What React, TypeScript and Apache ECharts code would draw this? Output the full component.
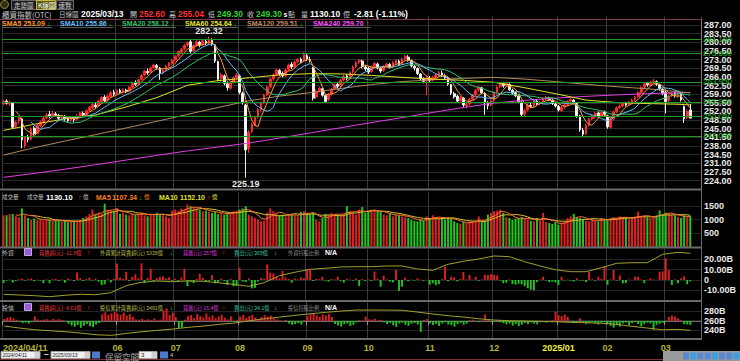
import React, { useEffect, useRef } from "react";
import * as echarts from "echarts";

const FONT = "'Liberation Sans', 'DejaVu Sans', sans-serif";
const CJK = "'Noto Sans CJK TC', 'Liberation Sans', sans-serif";

// ---------- calendar / ticks ----------
const monthLabels = ["2024/04/11", "05", "06", "07", "08", "09", "10", "11", "12", "2025/01", "02", "03"];
const monthDays = [14, 23, 19, 21, 22, 20, 20, 21, 21, 16, 19, 9];
const hiddenMonthLabels = ["05"];
const reservedBars = 3;

// ---------- OHLC  [open, close, low, high] ----------
const ohlcApr = [
  [255.2, 256.0, 254.6, 256.8], [256.2, 255.3, 254.8, 256.9], [255.0, 255.8, 254.2, 256.4], [255.4, 245.6, 245.0, 255.6],
  [246.0, 247.6, 245.2, 248.2], [248.0, 249.4, 247.0, 250.0], [249.0, 240.4, 237.0, 249.4], [238.0, 241.5, 237.2, 242.0],
  [241.4, 240.6, 239.5, 242.5], [240.8, 245.0, 240.2, 245.6], [245.2, 243.0, 242.4, 246.0], [243.2, 246.4, 242.8, 246.8],
  [246.2, 247.8, 245.6, 248.4], [247.6, 249.2, 247.0, 249.8],
];
const ohlcMay = [
  [249.4, 250.6, 248.8, 251.4], [250.8, 250.0, 249.2, 252.2], [250.0, 251.2, 249.6, 252.4], [251.0, 250.4, 249.8, 251.8],
  [250.4, 249.2, 248.6, 251.0], [249.4, 250.2, 248.4, 250.8], [250.0, 249.0, 248.2, 250.6], [249.0, 248.2, 247.4, 249.6],
  [248.4, 249.4, 247.8, 250.0], [249.2, 248.6, 247.6, 249.8], [248.8, 250.2, 248.2, 250.8], [250.0, 251.4, 249.6, 251.8],
  [251.2, 250.6, 250.0, 252.0], [250.8, 252.4, 250.4, 252.8], [252.4, 253.6, 251.8, 254.2], [253.4, 254.8, 253.0, 255.4],
  [254.6, 254.0, 253.2, 255.6], [254.2, 256.2, 253.8, 256.8], [256.0, 257.6, 255.6, 258.2], [257.8, 256.4, 255.8, 258.6],
  [256.6, 258.2, 256.0, 258.8], [258.0, 259.6, 257.6, 260.2], [259.8, 259.0, 258.2, 260.8],
];
const ohlcJun = [
  [259.2, 260.4, 258.8, 261.0], [260.6, 259.6, 259.0, 261.2], [259.8, 260.8, 259.2, 261.4], [260.6, 260.0, 259.4, 261.2],
  [260.2, 261.8, 259.8, 262.2], [261.8, 263.4, 261.4, 263.8], [263.6, 263.0, 262.4, 264.6], [263.2, 264.8, 262.8, 265.2],
  [265.0, 266.6, 264.6, 267.0], [266.8, 268.4, 266.2, 268.8], [268.2, 267.6, 266.8, 269.4], [267.8, 269.6, 267.4, 270.2],
  [269.8, 270.8, 269.2, 271.4], [270.6, 269.8, 269.0, 271.2], [269.6, 267.6, 264.8, 270.0], [267.8, 268.6, 267.0, 269.2],
  [268.8, 270.4, 268.2, 270.8], [270.4, 271.6, 269.8, 272.0], [271.4, 272.6, 270.8, 273.2],
];
const ohlcJul = [
  [272.8, 274.4, 272.2, 274.8], [274.6, 276.2, 274.0, 276.6], [276.0, 277.2, 275.4, 277.8], [277.4, 278.8, 276.8, 279.4],
  [279.0, 279.8, 278.2, 280.4], [280.2, 276.4, 275.6, 281.0], [276.6, 278.6, 276.0, 279.2], [278.8, 280.2, 278.2, 280.8],
  [280.0, 279.0, 278.0, 280.6], [279.2, 280.6, 278.6, 281.2], [280.4, 279.6, 278.8, 281.4], [279.8, 281.0, 279.2, 282.32],
  [280.8, 279.4, 278.6, 281.6], [279.0, 272.4, 271.6, 279.2], [272.2, 265.0, 264.2, 272.6], [265.4, 266.8, 264.0, 267.6],
  [266.4, 263.4, 262.6, 267.0], [263.2, 261.6, 260.4, 264.2], [261.4, 263.6, 260.8, 264.2], [263.8, 265.6, 263.2, 266.2],
  [265.8, 266.8, 265.0, 267.6],
];
const ohlcAug = [
  [266.4, 259.8, 259.0, 267.0], [259.4, 255.6, 254.8, 260.0], [254.6, 236.4, 225.19, 255.0], [237.0, 243.6, 235.2, 244.4],
  [244.0, 246.8, 243.2, 247.4], [246.6, 249.6, 246.0, 250.2], [249.8, 252.8, 249.2, 253.4], [252.6, 255.4, 252.0, 256.0],
  [255.6, 258.6, 255.0, 259.2], [258.8, 261.8, 258.2, 262.4], [262.0, 265.0, 261.4, 265.6], [265.2, 266.8, 264.4, 267.4],
  [267.0, 268.8, 266.2, 269.4], [268.6, 267.2, 266.4, 269.2], [267.4, 266.4, 265.8, 268.2], [266.6, 268.8, 266.0, 269.4],
  [269.0, 270.8, 268.4, 271.4], [271.0, 270.0, 269.2, 272.0], [270.2, 272.0, 269.6, 272.6], [272.2, 273.0, 271.4, 273.6],
  [273.2, 272.2, 271.6, 273.8], [272.4, 275.0, 272.0, 276.0],
];
const ohlcSep = [
  [274.6, 273.2, 272.4, 275.6], [273.0, 272.6, 271.8, 274.2], [269.6, 257.4, 256.4, 270.0], [257.8, 260.2, 257.0, 261.0],
  [260.4, 261.4, 259.6, 262.0], [261.2, 258.6, 258.0, 261.6], [258.4, 256.0, 255.4, 258.8], [256.8, 258.8, 256.2, 259.4],
  [259.0, 261.0, 258.4, 261.6], [261.2, 262.8, 260.6, 263.4], [263.0, 262.2, 261.4, 264.0], [262.4, 264.6, 261.8, 265.2],
  [264.8, 266.2, 264.2, 266.8], [266.4, 265.4, 264.6, 267.2], [265.6, 267.8, 265.0, 268.4], [268.0, 270.0, 267.4, 270.6],
  [270.2, 271.8, 269.6, 272.4], [272.0, 272.6, 271.2, 273.2], [272.4, 270.2, 269.4, 273.0], [270.0, 269.2, 268.4, 270.8],
];
const ohlcOct = [
  [269.4, 268.0, 267.2, 270.2], [268.2, 270.0, 267.6, 270.6], [270.2, 271.4, 269.6, 272.0], [271.2, 269.6, 269.0, 271.8],
  [269.4, 268.4, 267.6, 270.0], [268.6, 270.2, 268.0, 270.8], [270.4, 271.2, 269.8, 271.8], [271.0, 270.0, 269.4, 271.6],
  [270.2, 271.8, 269.6, 272.4], [271.6, 272.6, 271.0, 273.2], [272.4, 271.0, 270.4, 273.0], [271.2, 273.2, 270.8, 273.8],
  [273.4, 274.4, 272.8, 275.0], [274.0, 272.8, 272.2, 274.8], [272.6, 270.4, 269.8, 273.0], [270.2, 269.6, 268.6, 270.8],
  [269.4, 267.4, 266.8, 269.8], [267.2, 265.2, 264.6, 267.6], [265.0, 264.2, 263.4, 265.8], [264.4, 265.6, 258.6, 266.2],
];
const ohlcNov = [
  [265.4, 264.6, 263.8, 266.4], [264.8, 265.8, 264.2, 266.4], [265.8, 266.8, 265.2, 267.4], [266.8, 267.8, 266.2, 268.4],
  [267.6, 266.8, 266.0, 268.6], [266.6, 265.6, 264.8, 267.2], [265.4, 263.0, 262.4, 265.8], [262.8, 259.4, 258.6, 263.2],
  [259.2, 258.0, 257.2, 260.0], [258.2, 256.2, 255.6, 258.8], [256.4, 257.6, 255.8, 258.2], [257.4, 254.6, 253.8, 257.8],
  [254.2, 254.8, 253.2, 255.6], [255.0, 256.8, 254.4, 257.4], [257.0, 258.6, 256.4, 259.2], [258.8, 260.4, 258.2, 261.0],
  [260.6, 261.8, 260.0, 262.4], [261.6, 259.6, 259.0, 262.0], [259.4, 255.6, 250.6, 259.8], [255.4, 254.4, 252.8, 256.2],
  [254.6, 256.2, 254.0, 256.8],
];
const ohlcDec = [
  [256.4, 259.6, 255.8, 260.2], [259.8, 261.8, 259.2, 262.4], [262.0, 263.2, 261.4, 263.8], [263.2, 262.4, 261.6, 264.0],
  [262.6, 263.4, 262.0, 264.0], [263.0, 260.8, 260.2, 263.4], [260.6, 259.4, 258.8, 261.2], [259.6, 258.4, 257.8, 260.2],
  [258.2, 256.0, 255.4, 258.6], [255.8, 250.8, 250.0, 256.2], [251.0, 252.4, 250.2, 253.0], [252.6, 254.6, 252.0, 255.2],
  [254.4, 254.0, 253.4, 255.4], [254.2, 256.4, 253.8, 257.0], [256.2, 255.0, 254.4, 256.8], [255.2, 255.8, 254.6, 256.4],
  [255.6, 257.2, 255.0, 257.8], [257.0, 257.6, 256.4, 258.2], [257.4, 256.8, 256.2, 258.0], [256.6, 255.2, 254.6, 257.0],
  [255.0, 254.2, 253.6, 255.6],
];
const ohlcJan = [
  [254.0, 252.6, 252.0, 254.6], [252.4, 253.6, 251.8, 254.2], [253.8, 254.6, 253.0, 255.2], [254.8, 256.0, 254.2, 256.6],
  [256.2, 256.8, 255.6, 257.4], [256.6, 255.4, 254.8, 257.0], [255.2, 250.2, 249.4, 255.6], [250.2, 244.6, 243.8, 250.6],
  [244.4, 242.8, 242.0, 245.4], [243.0, 246.4, 242.4, 247.0], [246.6, 248.8, 246.0, 249.4], [249.0, 250.0, 248.4, 250.6],
  [249.8, 251.2, 249.2, 251.8], [251.4, 250.2, 249.6, 252.0], [250.4, 251.6, 249.8, 252.2], [251.8, 250.8, 250.0, 252.4],
];
const ohlcFeb = [
  [250.2, 245.8, 245.0, 250.6], [245.6, 248.8, 245.0, 249.4], [249.0, 251.8, 248.4, 252.4], [252.0, 253.4, 251.4, 254.0],
  [253.6, 254.0, 253.0, 254.8], [254.2, 255.0, 253.6, 255.6], [255.2, 254.6, 254.0, 255.8], [254.8, 255.6, 254.2, 256.2],
  [255.8, 256.6, 255.2, 257.2], [256.8, 257.8, 256.2, 258.4], [258.0, 259.6, 257.4, 260.2], [259.8, 261.6, 259.2, 262.2],
  [261.8, 263.2, 261.2, 263.8], [263.4, 262.8, 262.0, 264.0], [262.6, 263.8, 262.2, 264.4], [263.6, 264.2, 263.0, 265.2],
  [264.0, 263.0, 262.4, 264.6], [262.8, 261.2, 260.4, 263.2], [261.0, 259.4, 258.6, 261.4],
];
const ohlcMar = [
  [259.8, 256.0, 251.2, 260.4], [256.4, 258.2, 255.8, 258.8], [258.4, 259.4, 257.8, 260.0], [259.6, 258.4, 257.6, 260.2],
  [258.2, 259.0, 257.4, 259.6], [258.8, 256.6, 256.0, 259.2], [254.0, 249.0, 247.3, 254.4], [249.6, 252.11, 249.0, 252.8],
  [252.6, 249.3, 249.3, 255.04],
];

// ---------- volume (億) ----------
const volume = [
  1160, 1160, 1210, 1210, 1120, 1085, 1410, 1160, 1060, 1000, 1040, 980, 1010, 960,
  990, 1000, 950, 970, 950, 930, 960, 910, 940, 920, 960, 990, 1060, 1120, 1200, 1370, 1185, 1250, 1210, 1580, 1370, 1330, 1310,
  1410, 1210, 1250, 1185, 1160, 1210, 1185, 1210, 1250, 1160, 1120, 1210, 1185, 1250, 1185, 1160, 1120, 1060, 1330,
  1370, 1310, 1410, 1370, 1555, 1495, 1430, 1410, 1370, 1310, 1330, 1285, 1250, 1285, 1210, 1240, 1185, 1250, 1210, 1310, 1330,
  1370, 1410, 1490, 1185, 1120, 1060, 1000, 940, 960, 1250, 1410, 1310, 1210, 1160, 1185, 1120, 1210, 1185, 1160, 1120, 1285, 1310,
  1250, 1210, 1250, 1000, 940, 1060, 1210, 1185, 1250, 1210, 1185, 1160, 1210, 1490, 1310, 1250, 1185, 1370, 1460, 1250,
  1310, 1330, 1370, 1310, 1285, 1185, 1160, 1210, 1120, 1185, 1160, 1120, 1085, 1060, 1000, 960, 940, 1000, 960, 1120,
  1060, 1160, 1090, 1040, 1060, 1000, 1090, 1060, 940, 880, 840, 910, 880, 940, 940, 960, 1120, 910, 960, 1185, 1250,
  1310, 1330, 1370, 1250, 1090, 1060, 1000, 1040, 1060, 1090, 1040, 1000, 960, 940, 1060, 960, 1240, 910, 880, 840, 910,
  815, 880, 910, 1060, 1120, 1210, 1090, 1060, 1000, 960, 940, 1000, 960, 940, 1060, 1040,
  1000, 1060, 1090, 1060, 1120, 1090, 1060, 1000, 1090, 1120, 1290, 1090, 1120, 1090, 1060, 1120, 1160, 1340, 1210,
  1250, 1210, 1185, 1160, 1100, 1060, 1150, 1100, 1130.1,
];

// ---------- 外資 net buy (B) ----------
const foreignNet = [
  -2.8, -0.6, 0.5, -2.4, -0.8, 0.6, 1.2, -0.5, 0.8, 1.5, -1.2, 0.4, -0.6, -3.0,
  0.6, -3.2, 0.8, 1.2, -0.8, 0.5, -2.6, 1.4, 0.6, -0.9, 7.4, 1.8, -1.0, 0.9, 2.2, -0.6, 1.3, -1.5, -4.8, -4.2, 0.7, -2.4, 1.0,
  16.0, 2.4, 1.2, 8.0, -1.0, 3.0, 5.5, 1.6, 16.2, -3.0, 2.1, 11.0, -1.2, 1.8, 2.9, 3.4, 1.5, 2.6, -0.8,
  1.2, -0.8, 2.5, 11.0, -6.0, -1.5, -3.0, 1.0, 6.2, 2.0, -1.2, -0.8, 4.6, -3.2, -2.6, 1.4, -0.9, -4.8, 1.0, -6.2, -5.8,
  12.0, -1.5, -2.0, 1.5, -8.2, -7.6, -1.5, 2.0, 1.2, 15.0, 7.2, 6.4, 3.0, 1.5, 9.0, 2.5, 1.0, -2.6, 1.4, 0.6, 2.4, 1.8,
  10.0, 9.6, -1.0, 1.2, 0.8, 3.2, -0.6, -1.5, 1.0, 0.6, 3.2, -0.8, -2.5, 1.2, 0.4, -0.6, 1.4, -6.0, 0.8, -1.0,
  0.6, -0.8, 8.2, 1.2, -6.5, 4.1, 0.6, -1.6, -2.3, 9.7, -10.7, -6.5, 2.3, -1.2, 0.5, -0.6, 1.6, 0.4, -0.8, 0.3,
  -4.6, -3.2, -5.0, -4.2, 0.8, 12.9, -1.0, 3.2, 2.6, -1.3, 0.9, 7.8, 0.5, 4.9, 0.4, 3.2, -0.8, 0.6, 5.2, 4.8, 5.6,
  5.0, 4.4, -0.6, -3.0, -2.6, 0.5, -4.0, -4.4, -3.6, -4.2, -6.0, -8.0, -9.4, -10.0, -2.0, 0.6, 3.2, -0.5, -2.0, -1.6, -2.4,
  -4.8, 3.2, -0.4, 0.5, -0.6, -1.4, 1.6, -0.5, -0.4, -2.0, 8.0, 0.8, -0.6, 3.2, 1.0, 13.0,
  -4.6, 0.6, 9.7, -0.5, 4.5, -3.2, -3.0, 0.6, 0.3, 3.2, 3.0, 0.5, -3.0, 0.4, 1.6, 0.5, 0.3, 8.0, 8.4,
  21.0, 9.8, -4.8, 0.6, -3.2, 1.6, 3.6, -4.0, -1.18,
];
// 外資累計買賣超 (億), read at sampled days [dayIndex, value]
const foreignCum = [
  [0, 3893], [5, 3868], [10, 3844], [15, 3809], [20, 3858], [25, 3893], [30, 3879], [35, 3949], [40, 4194], [45, 4313],
  [50, 4358], [55, 4334], [60, 4358], [65, 4348], [70, 4299], [75, 4243], [80, 4173], [85, 4299], [90, 4544], [95, 4663],
  [100, 4768], [105, 4803], [110, 4849], [115, 4859], [120, 4859], [125, 4884], [130, 4884], [135, 4779], [140, 4733],
  [145, 4943], [150, 5048], [155, 5129], [160, 5234], [165, 5209], [170, 5034], [175, 4884], [180, 4754], [185, 4684],
  [190, 4684], [195, 4824], [200, 4978], [205, 4999], [210, 4999], [215, 5293], [220, 5363], [224, 5328],
];

// ---------- 投信 net buy (億) ----------
const trustNet = [
  4.2, 6.8, 8.6, 5.4, 2.6, -1.8, -4.6, -3.2, -5.8, -2.4, 9.8, 3.2, 1.6, 2.8,
  3.6, 1.2, 4.4, 2.6, 3.8, 1.8, -0.6, -6.2, -9.8, -12.4, -8.6, -14.8, -10.2, -6.4, -11.6, -13.2, -7.8, -4.6, 14.2, 18.6, 12.8, 16.4, 19.2,
  15.6, 13.2, 17.8, 11.4, 14.6, 8.8, 3.2, 2.4, 4.6, 1.8, 3.6, 2.2, 5.4, 1.2, 3.0, 22.4, 26.8, 12.6, 18.2,
  8.4, -15.6, -14.2, 2.6, 9.8, 12.4, 6.2, 14.8, 10.6, 7.4, 16.2, 8.8, 12.0, 5.6, 9.4, 13.6, 6.8, 3.2, 10.2, -1.8, 1.2,
  9.6, 12.8, 6.4, 10.8, 13.2, 7.6, 4.2, 8.8, 12.2, 9.4, 11.6, 6.0, 3.4, 1.2, -0.8, 2.0, -5.4, -8.2, -6.8, -4.4, -7.6, 1.6,
  10.4, 14.6, 16.2, 12.0, 9.2, 13.8, 11.4, 15.0, 8.6, -6.4, -9.8, -12.2, -7.4, -5.6, -10.8, -8.4, -3.2, 1.8, 0.8, 9.2,
  3.2, 2.6, 4.8, 1.4, 2.2, -2.6, -6.8, -4.2, -9.6, -12.8, -5.4, -3.6, -8.2, -10.4, -6.0, -4.6, -7.8, -23.4, 2.4, 4.0,
  -4.8, -8.6, -6.2, -10.8, -5.4, -3.2, -7.6, -9.4, -12.2, -6.8, -4.4, -8.0, -5.8, 1.6, 2.8, -1.2, -2.4, 0.8, 14.2, 3.6, -2.0,
  -1.6, 2.4, -3.0, -4.8, -7.2, -5.6, -9.8, -6.4, -11.2, -8.0, -4.2, -6.6, -3.4, -5.8, -7.4, -2.8, -1.2, -3.6, -2.0, 2.2, 19.8,
  12.4, 10.6, 13.8, 9.2, -2.4, -4.8, -1.6, 5.6, -3.2, -6.0, -4.4, -2.8, -5.2, -7.6, -3.8, -1.4,
  -6.4, -10.2, -14.4, -8.8, -12.0, -5.2, -3.6, -9.0, -4.8, -2.2, -6.6, -11.4, -7.2, -3.8, -5.6, -19.2, -8.4, -6.2, -4.0,
  -2.4, 8.6, 11.2, 9.4, 6.0, 1.6, -6.8, -7.4, -8.61,
];
// 投信累計買賣超 (B), sampled [dayIndex, value]
const trustCum = [
  [0, 248.9], [5, 244.8], [10, 241.2], [15, 239.2], [20, 237.1], [25, 234.4], [30, 230.9], [35, 229.6], [40, 233.8],
  [45, 237.1], [50, 240.0], [55, 242.7], [60, 246.2], [65, 248.9], [70, 252.4], [75, 255.1], [80, 259.9], [85, 264.0],
  [90, 267.6], [95, 271.1], [100, 274.4], [105, 277.3], [110, 280.0], [115, 282.1], [120, 282.1], [125, 282.1],
  [130, 281.5], [135, 277.9], [140, 273.8], [145, 270.3], [150, 267.6], [155, 264.0], [160, 261.3], [165, 259.9],
  [170, 259.3], [175, 258.7], [180, 257.8], [185, 256.6], [190, 255.8], [195, 254.5], [200, 252.4], [205, 248.3],
  [210, 244.8], [215, 241.2], [220, 242.1], [224, 240.1],
];

// ---------- long moving averages, sampled [dayIndex, value] ----------
const sma60Pts = [
  [0, 244.3], [10, 246.8], [20, 249.0], [30, 250.6], [40, 253.8], [50, 257.6], [60, 262.6], [70, 264.5], [80, 265.6],
  [90, 266.8], [100, 267.3], [110, 267.2], [120, 266.6], [130, 265.8], [140, 265.1], [150, 264.6], [160, 263.8],
  [170, 261.6], [180, 259.2], [190, 256.6], [200, 255.6], [210, 255.2], [220, 254.9], [224, 254.64],
];
const sma120Pts = [
  [0, 234.3], [10, 237.3], [20, 240.0], [30, 242.6], [40, 245.3], [50, 248.0], [60, 250.8], [70, 253.6], [80, 256.3],
  [90, 258.2], [100, 259.6], [110, 261.3], [120, 262.9], [130, 264.1], [140, 264.8], [150, 265.4], [160, 265.8],
  [170, 265.1], [180, 264.1], [190, 263.0], [200, 262.0], [210, 261.2], [220, 260.0], [224, 259.51],
];
const sma240Pts = [
  [0, 225.3], [10, 226.9], [20, 228.6], [30, 230.4], [40, 232.3], [50, 234.2], [60, 236.0], [70, 237.6], [80, 239.2],
  [90, 241.2], [100, 243.3], [110, 245.4], [120, 247.5], [130, 249.5], [140, 251.6], [150, 253.6], [160, 255.4],
  [170, 256.5], [180, 257.4], [190, 258.1], [200, 258.7], [210, 259.2], [220, 259.6], [224, 259.7],
];

// support / resistance levels
const greenLevels = [281.1, 275.604, 263.946, 255.924, 250.048, 242.092];

// ---------- helpers ----------
function sma(arr: number[], n: number) {
  return arr.map((_, i) => {
    if (i < n - 1) return null;
    let s = 0;
    for (let k = i - n + 1; k <= i; k++) s += arr[k];
    return +(s / n).toFixed(3);
  });
}
function edgeColors(n: number, c: string) {
  return Array.from({ length: n }, (_, k) => (k === 0 || k === n - 1 ? "rgba(0,0,0,0)" : c));
}
function T(x: number, y: number, text: string, fill: string, size = 9, bold = false, family = FONT, align = "left") {
  return {
    type: "text", x, y, silent: true, z: 100,
    style: {
      text, fill, font: `${bold ? "bold " : ""}${size}px ${family}`,
      textVerticalAlign: "middle", verticalAlign: "middle", textAlign: align, align,
    },
  };
}
function L(x1: number, y1: number, x2: number, y2: number, stroke: string, w = 1) {
  return { type: "line", silent: true, z: 90, shape: { x1, y1, x2, y2 }, style: { stroke, lineWidth: w } };
}
function R(x: number, y: number, w: number, h: number, fill: string, stroke?: string) {
  return { type: "rect", silent: true, z: 95, shape: { x, y, width: w, height: h }, style: { fill, stroke: stroke || null, lineWidth: 1 } };
}

export default function App() {
  const ref = useRef<HTMLDivElement>(null);

  useEffect(() => {
    if (!ref.current) return;
    const chart = echarts.init(ref.current, undefined, { renderer: "svg" });

    const ohlc = [
      ...ohlcApr, ...ohlcMay, ...ohlcJun, ...ohlcJul, ...ohlcAug, ...ohlcSep,
      ...ohlcOct, ...ohlcNov, ...ohlcDec, ...ohlcJan, ...ohlcFeb, ...ohlcMar,
    ];
    const closes = ohlc.map((d) => d[1]);

    const categories: string[] = [];
    const tickLabels = new Map<number, string>();
    let idx = 0;
    monthLabels.forEach((m, k) => {
      if (!hiddenMonthLabels.includes(m)) tickLabels.set(idx, m);
      for (let d = 0; d < monthDays[k]; d++) categories.push(`${m}-${d + 1}`);
      idx += monthDays[k];
    });
    for (let r = 0; r < reservedBars; r++) categories.push(`reserve-${r + 1}`);
    const isTick = (i: number) => tickLabels.has(i);

    const UP = "#ff2a2a";
    const DOWN_VOL = "#22c422";
    const volData = volume.map((v, i) => {
      const prev = i === 0 ? ohlc[0][0] : closes[i - 1];
      return { value: v, itemStyle: { color: closes[i] >= prev ? "#e02020" : DOWN_VOL } };
    });
    const fData = foreignNet.map((v) => ({ value: v, itemStyle: { color: v >= 0 ? "#e02020" : DOWN_VOL } }));
    const tData = trustNet.map((v) => ({ value: v, itemStyle: { color: v >= 0 ? "#e02020" : DOWN_VOL } }));

    const gridLeft = 2;
    const gridWidth = 699;
    const grids = [
      { left: gridLeft, width: gridWidth, top: 16.4, height: 172.8 },
      { left: gridLeft, width: gridWidth, top: 192.3, height: 54.7 },
      { left: gridLeft, width: gridWidth, top: 249.1, height: 51.5 },
      { left: gridLeft, width: gridWidth, top: 301.4, height: 38.6 },
    ];

    const xAxes = [0, 1, 2, 3].map((g) => ({
      type: "category",
      gridIndex: g,
      data: categories,
      boundaryGap: true,
      axisLine: { show: g === 3, lineStyle: { color: "#6a6a6a" } },
      axisTick: { show: g === 3, interval: isTick, length: 4, lineStyle: { color: "#9a9a9a" } },
      axisLabel: {
        show: g === 3,
        interval: isTick,
        margin: 3,
        color: "#b4b43c",
        fontSize: 9,
        fontWeight: "bold",
        fontFamily: FONT,
        formatter: (_v: string, i: number) => {
          const lab = tickLabels.get(i) || "";
          if (i === 0) return `{first|${lab}}`;
          if (lab.length > 2) return `{hl|${lab}}`;
          return lab;
        },
        rich: {
          first: { padding: [0, 0, 0, 42], color: "#b4b43c", fontSize: 9, fontWeight: "bold", fontFamily: FONT },
          hl: { color: "#f0f040", fontSize: 9, fontWeight: "bold", fontFamily: FONT },
        },
      },
      splitLine: { show: true, interval: isTick, lineStyle: { color: "#3a3a3a", width: 1 } },
      axisPointer: { show: false },
    }));

    const labelStyle = { color: "#e8e8e8", fontSize: 9, fontWeight: "bold", fontFamily: FONT, margin: 3 };
    const yAxes: any[] = [
      {
        gridIndex: 0, position: "right", min: 220.5, max: 290.5, interval: 3.5, scale: true,
        axisLine: { show: false }, axisTick: { show: false },
        axisLabel: { ...labelStyle, formatter: (v: number) => (v < 223 || v > 288 ? "" : v.toFixed(2)) },
        splitLine: { lineStyle: { color: edgeColors(21, "#2a2a2a") } },
      },
      {
        gridIndex: 1, position: "right", min: 0, max: 2000, interval: 500,
        axisLine: { show: false }, axisTick: { show: false },
        axisLabel: { ...labelStyle, formatter: (v: number) => (v === 0 || v === 2000 ? "" : String(v)) },
        splitLine: { lineStyle: { color: edgeColors(5, "#222222") } },
      },
      {
        gridIndex: 2, position: "right", min: -20, max: 30, interval: 10,
        axisLine: { show: false }, axisTick: { show: false },
        axisLabel: {
          ...labelStyle,
          formatter: (v: number) => (v === -20 || v === 30 ? "" : v === 0 ? "0" : v.toFixed(2) + "B"),
        },
        splitLine: { lineStyle: { color: edgeColors(6, "#242424") } },
      },
      { gridIndex: 2, show: false, min: 3672, max: 5475, splitLine: { show: false } },
      {
        gridIndex: 3, position: "right", min: 220, max: 300, interval: 20,
        axisLine: { show: false }, axisTick: { show: false },
        axisLabel: { ...labelStyle, formatter: (v: number) => (v === 220 || v === 300 ? "" : v + "B") },
        splitLine: { lineStyle: { color: edgeColors(5, "#242424") } },
      },
      { gridIndex: 3, show: false, min: -41, max: 42, splitLine: { show: false } },
    ];

    const lineS = (name: string, data: any[], color: string, xi: number, yi: number, z = 3) => ({
      name, type: "line", data, xAxisIndex: xi, yAxisIndex: yi, showSymbol: false, symbol: "none",
      lineStyle: { color, width: 1 }, z, silent: true, connectNulls: false,
    });

    const series: any[] = [
      {
        name: "K", type: "candlestick", data: ohlc, xAxisIndex: 0, yAxisIndex: 0, barWidth: "72%",
        itemStyle: { color: UP, color0: "#f2f2f2", borderColor: UP, borderColor0: "#f2f2f2", borderWidth: 1 },
        markPoint: {
          symbol: "circle", symbolSize: 1, silent: true,
          itemStyle: { color: "rgba(0,0,0,0)" },
          data: [
            { type: "max", valueDim: "highest", label: { position: "top", distance: 1 } },
            { type: "min", valueDim: "lowest", label: { position: "bottom", distance: 1 } },
          ],
          label: {
            show: true, color: "#e8e8e8", fontSize: 9, fontWeight: "bold", fontFamily: FONT,
            formatter: (p: any) => Number(p.value).toFixed(2),
          },
        },
        markLine: {
          silent: true, symbol: ["none", "none"], animation: false,
          lineStyle: { color: "#1f9a1f", type: "solid", width: 1 },
          label: {
            show: true, position: "end", distance: 2, color: "#22c022", fontSize: 8, fontFamily: FONT,
            formatter: (p: any) => Number(p.value).toFixed(3),
          },
          data: greenLevels.map((v) => ({ yAxis: v })),
        },
        z: 2,
      },
      lineS("SMA240", sma240Pts, "#e040e0", 0, 0),
      lineS("SMA120", sma120Pts, "#b08a5a", 0, 0),
      lineS("SMA60", sma60Pts, "#e0e030", 0, 0),
      lineS("SMA20", sma(closes, 20), "#33c466", 0, 0),
      lineS("SMA10", sma(closes, 10), "#66c0ff", 0, 0),
      lineS("SMA5", sma(closes, 5), "#ff9933", 0, 0),
      { name: "VOL", type: "bar", data: volData, xAxisIndex: 1, yAxisIndex: 1, barWidth: "66%", silent: true, z: 2 },
      lineS("VMA10", sma(volume, 10), "#d8c030", 1, 1),
      lineS("VMA5", sma(volume, 5), "#ff7030", 1, 1),
      { name: "外資", type: "bar", data: fData, xAxisIndex: 2, yAxisIndex: 2, barWidth: "62%", silent: true, z: 2 },
      lineS("外資累計", foreignCum, "#a0a030", 2, 3),
      { name: "投信", type: "bar", data: tData, xAxisIndex: 3, yAxisIndex: 5, barWidth: "62%", silent: true, z: 2 },
      lineS("投信累計", trustCum, "#a0a030", 3, 4),
    ];

    // ---------- decorations ----------
    const G: any[] = [];
    const UPC = "#ff3030";
    const DNC = "#30d030";
    // tabs
    G.push({ type: "circle", silent: true, z: 95, shape: { cx: 4.5, cy: 4.5, r: 4 }, style: { fill: "#303018", stroke: "#a09030", lineWidth: 1 } });
    G.push(R(11.5, 0.5, 25, 9, "#1a1a1a", "#6a6a6a"));
    G.push(T(14, 5, "走勢圖", "#d0d0d0", 6.5, false, CJK));
    G.push(R(36.5, 0.5, 19, 9, "#5a5a10", "#c8b840"));
    G.push(T(38, 5, "K線圖", "#ffffff", 6.5, false, CJK));
    G.push(R(56.5, 0.5, 17, 9, "#1a1a1a", "#6a6a6a"));
    G.push(T(58.5, 5, "速覽", "#d0d0d0", 6.5, false, CJK));

    // info line
    const iy = 14;
    G.push(T(2, iy, "櫃買指數(OTC)", "#c8c8c8", 7.5, false, CJK));
    G.push(T(59, iy, "日線圖", "#c8c8c8", 6.5, false, CJK));
    G.push(T(81, iy, "2025/03/13", "#ffffff", 8.5, true));
    G.push(T(130, iy, "開", "#c8c8c8", 7, false, CJK));
    G.push(T(139, iy, "252.60", UPC, 8.5, true));
    G.push(T(169, iy, "高", "#c8c8c8", 7, false, CJK));
    G.push(T(178, iy, "255.04", UPC, 8.5, true));
    G.push(T(208, iy, "低", "#c8c8c8", 7, false, CJK));
    G.push(T(217, iy, "249.30", DNC, 8.5, true));
    G.push(T(247, iy, "收", "#c8c8c8", 7, false, CJK));
    G.push(T(256, iy, "249.30", DNC, 8.5, true));
    G.push(T(283.5, iy, "s", "#ffffff", 7, true));
    G.push(T(288, iy, "點", "#c8c8c8", 7, false, CJK));
    G.push(T(301, iy, "量", "#c8c8c8", 7, false, CJK));
    G.push(T(310, iy, "1130.10", "#ffffff", 8.5, true));
    G.push(T(343, iy, "億", "#c8c8c8", 7, false, CJK));
    G.push(T(354, iy, "-2.81 (-1.11%)", "#ffffff", 8.5, true));

    // panel frames
    G.push(L(0, 19.5, 702, 19.5, "#7a3a4a", 1));
    G.push(L(701.5, 19.5, 701.5, 189, "#9a6a7a", 1));
    G.push(L(0, 189.5, 702, 189.5, "#6a6a6a", 2));
    G.push(L(0, 247.5, 702, 247.5, "#6a6a6a", 2));
    G.push(L(0, 301, 702, 301, "#6a6a6a", 2));
    G.push(L(0, 339, 702, 339, "#6a6a6a", 2));
    G.push(L(701.5, 189.5, 701.5, 339, "#6a6a6a", 1));

    // SMA legend: [x, text, color, arrowX, up]
    const sy = 23.3;
    const smaItems: [number, string, string, number, boolean][] = [
      [2, "SMA5 253.09", "#ff9933", 47, false],
      [60, "SMA10 255.86", "#66c0ff", 108.5, false],
      [122, "SMA20 258.12", "#33c466", 171, false],
      [185, "SMA60 254.64", "#e8e830", 233.5, false],
      [247, "SMA120 259.51", "#c08a60", 299.5, false],
      [313, "SMA240 259.70", "#ff55ff", 366, true],
    ];
    smaItems.forEach(([x, t, c, ax, up]) => {
      G.push(T(x, sy, t, c, 7, true));
      G.push(T(ax, sy, up ? "↑" : "↓", up ? UPC : DNC, 7, true));
      G.push(L(x, 27.5, ax + 5, 27.5, "#5a5a5a", 1));
    });

    // volume header
    const vy = 197;
    G.push(T(2, vy, "成交量", "#c0c0c0", 5.5, false, CJK));
    G.push(T(27, vy, "成交量", "#c0c0c0", 5.5, false, CJK));
    G.push(T(46, vy, "1130.10", "#ffffff", 7.5, true));
    G.push(T(78, vy, "↑", UPC, 7, true));
    G.push(T(83, vy, "億", "#c0c0c0", 5.5, false, CJK));
    G.push(T(96, vy, "MA5", "#ff7f27", 7, true));
    G.push(T(112, vy, "1107.34", "#ff7f27", 7, true));
    G.push(T(139, vy, "↓", DNC, 7, true));
    G.push(T(144, vy, "億", "#ff7f27", 5.5, false, CJK));
    G.push(T(159, vy, "MA10", "#e0e030", 7, true));
    G.push(T(180, vy, "1152.10", "#e0e030", 7, true));
    G.push(T(207, vy, "↑", UPC, 7, true));
    G.push(T(212, vy, "億", "#e0e030", 5.5, false, CJK));

    // institutional headers
    const instHeader = (y: number, who: string, net: string, cum: string, buy: string, sell: string) => {
      G.push(T(2, y, who, "#c0c0c0", 6, false, CJK));
      G.push(R(24.5, y - 3.5, 7, 7, "#9a60d0", "#c8a0f0"));
      G.push(T(39, y, `買賣超(元) ${net}`, "#ff4040", 5.2, false, CJK));
      G.push(T(87, y, "↑", UPC, 6.5, true));
      G.push(T(100, y, `${who}累計買賣超(元) ${cum}`, "#c8c850", 5.2, false, CJK));
      G.push(T(170, y, "↓", DNC, 6.5, true));
      G.push(T(183, y, `買進(元) ${buy}`, "#e040e0", 5.2, false, CJK));
      G.push(T(222, y, "↑", UPC, 6.5, true));
      G.push(T(234, y, `賣出(元) ${sell}`, "#40d0a0", 5.2, false, CJK));
      G.push(T(274, y, "↓", DNC, 6.5, true));
      G.push(T(288, y, `${who}持股比例`, "#909090", 5.2, false, CJK));
      G.push(T(325, y, "N/A", "#ffffff", 7, true));
    };
    instHeader(252, "外資", "-11.8億", "5328億", "257億", "269億");
    instHeader(307, "投信", "-8.61億", "2401億", "15.4億", "24.1億");

    // bottom controls
    const by = 351.5;
    G.push(R(1, by, 39, 7, "#f0f0f0", "#a0a0a0"));
    G.push(T(2.5, by + 3.5, "2024/04/11", "#202020", 5));
    G.push(R(34.5, by + 0.5, 5, 6, "#d0d0d0"));
    G.push(T(44, by + 3, "~", "#ffffff", 8, true));
    G.push(R(51, by, 39, 7, "#f0f0f0", "#a0a0a0"));
    G.push(T(52.5, by + 3.5, "2025/03/13", "#202020", 5));
    G.push(R(84.5, by + 0.5, 5, 6, "#d0d0d0"));
    G.push(R(92, by, 8, 7, "#4a7ac8"));
    G.push(T(105, by + 4, "保留空間", "#a8a8a8", 8.5, false, CJK));
    G.push(R(139, by, 18, 7, "#f0f0f0", "#a0a0a0"));
    G.push(T(141, by + 3.5, "3", "#202020", 6));
    G.push(R(151.5, by + 0.5, 5, 6, "#d0d0d0"));
    G.push(R(160, by, 8, 7, "#4a7ac8"));
    G.push(T(170, by + 3.5, "4", "#c0c0c0", 6));
    G.push(L(0, 359.5, 663, 359.5, "#7a3030", 1));
    G.push(R(663, 351, 77, 10, "#9a9a9a"));
    for (let k = 0; k < 8; k++) G.push(R(683 + k * 7.2, 352.5, 6, 7, k % 3 === 1 ? "#3aa0e0" : "#5a88d0"));

    const option: any = {
      animation: false,
      backgroundColor: "#000000",
      textStyle: { fontFamily: FONT },
      grid: grids,
      xAxis: xAxes,
      yAxis: yAxes,
      series,
      graphic: { elements: G },
    };
    chart.setOption(option);
    return () => chart.dispose();
  }, []);

  return (
    <div
      ref={ref}
      style={{ position: "fixed", left: 0, top: 0, width: 740, height: 361, background: "#000" }}
    />
  );
}
